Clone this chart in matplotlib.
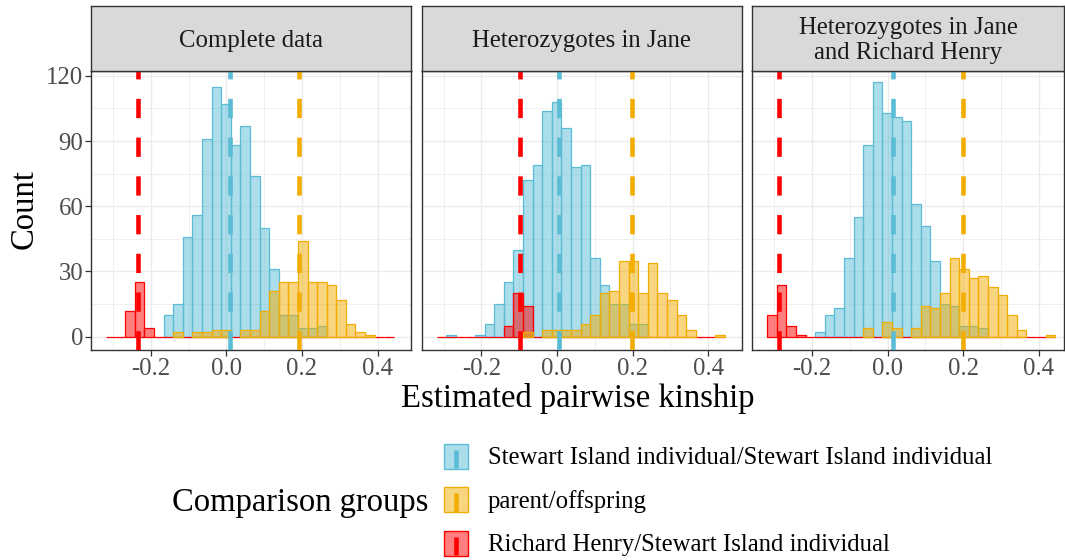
import numpy as np
import matplotlib
matplotlib.use("Agg")
import matplotlib.pyplot as plt
from matplotlib.patches import Rectangle
from matplotlib.lines import Line2D
from matplotlib.colors import to_rgba

plt.rcParams['font.family'] = ['Liberation Serif', 'DejaVu Serif']

# ---------------- data ----------------
panel_titles = ["Complete data", "Heterozygotes in Jane",
                "Heterozygotes in Jane\nand Richard Henry"]
group_labels = ["Stewart Island individual/Stewart Island individual",
                "parent/offspring",
                "Richard Henry/Stewart Island individual"]
group_colors = ["#5BBCD6", "#F2AD00", "#FF0000"]

bin_lo, bin_hi, n_bins = -0.3185, 0.4433, 30

# counts per bin (30 bins), panel 1: complete data
ssi_complete = [0, 0, 0, 0, 0, 0, 10, 15, 46, 56, 91, 115, 107, 88, 97, 74, 50, 31, 10, 10, 4, 4, 5, 0, 0, 0, 0, 0, 0, 0]
po_complete = [0, 0, 0, 0, 0, 0, 0, 2, 0, 2, 2, 3, 3, 0, 3, 3, 12, 21, 25, 25, 44, 25, 25, 24, 17, 6, 2, 1, 0, 0]
rh_complete = [0, 0, 12, 25, 4, 0, 0, 0, 0, 0, 0, 0, 0, 0, 0, 0, 0, 0, 0, 0, 0, 0, 0, 0, 0, 0, 0, 0, 0, 0]
# panel 2: heterozygotes in Jane
ssi_jane = [0, 1, 0, 0, 1, 6, 15, 25, 40, 72, 79, 104, 108, 96, 78, 79, 36, 24, 15, 15, 6, 6, 0, 0, 0, 0, 0, 0, 0, 0]
po_jane = [0, 0, 0, 0, 0, 0, 0, 0, 0, 2, 0, 3, 3, 3, 3, 6, 10, 20, 21, 35, 35, 20, 34, 20, 17, 10, 3, 0, 0, 1]
rh_jane = [0, 0, 0, 0, 0, 0, 0, 5, 20, 14, 0, 0, 0, 0, 0, 0, 0, 0, 0, 0, 0, 0, 0, 0, 0, 0, 0, 0, 0, 0]
# panel 3: heterozygotes in Jane and Richard Henry
ssi_both = [0, 0, 0, 0, 0, 2, 10, 13, 36, 55, 88, 117, 103, 101, 99, 61, 51, 35, 15, 14, 5, 5, 4, 0, 0, 0, 0, 0, 0, 0]
po_both = [0, 0, 0, 0, 0, 0, 0, 0, 0, 0, 4, 0, 7, 4, 0, 4, 14, 13, 20, 36, 31, 27, 28, 23, 19, 10, 3, 0, 0, 1]
rh_both = [10, 24, 5, 1, 0, 0, 0, 0, 0, 0, 0, 0, 0, 0, 0, 0, 0, 0, 0, 0, 0, 0, 0, 0, 0, 0, 0, 0, 0, 0]

# group means (dashed lines)
mean_ssi = [0.0105, 0.0044, 0.0132]
mean_po = [0.193, 0.1984, 0.2002]
mean_rh = [-0.2347, -0.0979, -0.2866]

x_ticks = [-0.2, 0.0, 0.2, 0.4]
y_ticks = [0, 30, 60, 90, 120]

ssi_sets = [ssi_complete, ssi_jane, ssi_both]
po_sets = [po_complete, po_jane, po_both]
rh_sets = [rh_complete, rh_jane, rh_both]

# ---------------- layout ----------------
W, H = 1065, 560
fig = plt.figure(figsize=(W / 100, H / 100), dpi=100)


def fx(px):
    return px / W


def fy(py):
    return 1 - py / H


panel_left = [91, 421.7, 752.3]
panel_width = [320, 320, 311.7]
panel_top, panel_bot = 71, 350
strip_top = 6
xlo = -0.358
px_per_unit = 378.0
ylim = (-6.1, 122.2)

edges = np.linspace(bin_lo, bin_hi, n_bins + 1)
centers = (edges[:-1] + edges[1:]) / 2
bw = edges[1] - edges[0]

dash = (0, (4.2, 4.25))
grid_c = "#EBEBEB"
border_c = "#333333"
fs_tick = 17.8
fs_strip = 17.8
fs_title = 23.5

for i in range(3):
    ax = fig.add_axes([fx(panel_left[i]), fy(panel_bot),
                       fx(panel_width[i]), (panel_bot - panel_top) / H])
    ax.set_xlim(xlo, xlo + panel_width[i] / px_per_unit)
    ax.set_ylim(*ylim)
    ax.set_axisbelow(True)
    ax.set_xticks(x_ticks)
    ax.set_xticklabels(["-0.2", "0.0", "0.2", "0.4"])
    ax.set_xticks([-0.3, -0.1, 0.1, 0.3], minor=True)
    ax.set_yticks(y_ticks)
    ax.set_yticks([15, 45, 75, 105], minor=True)
    ax.grid(which="major", color=grid_c, lw=1.0)
    ax.grid(which="minor", color=grid_c, lw=0.55)
    ax.tick_params(which="minor", length=0)
    ax.tick_params(which="major", length=4, width=0.9, color=border_c,
                   labelsize=fs_tick, labelcolor="#4D4D4D", pad=1.5)
    if i > 0:
        ax.tick_params(axis="y", which="both", left=False, labelleft=False)
    for s in ax.spines.values():
        s.set_color(border_c)
        s.set_linewidth(1.0)

    # blue: non-zero bins
    c_ssi = np.array(ssi_sets[i])
    m = c_ssi > 0
    ax.bar(centers[m], c_ssi[m], width=bw, facecolor=to_rgba(group_colors[0], 0.5),
           edgecolor=group_colors[0], lw=0.9, zorder=2)
    # red: all bins (zero bins form baseline)
    c_rh = np.array(rh_sets[i])
    ax.bar(centers, c_rh, width=bw, facecolor=to_rgba(group_colors[2], 0.5),
           edgecolor=group_colors[2], lw=0.9, zorder=3)
    # yellow: non-zero bins
    c_po = np.array(po_sets[i])
    m = c_po > 0
    ax.bar(centers[m], c_po[m], width=bw, facecolor=to_rgba(group_colors[1], 0.5),
           edgecolor=group_colors[1], lw=0.9, zorder=4)

    ax.axvline(mean_ssi[i], color=group_colors[0], lw=3.3, ls=dash, zorder=5)
    ax.axvline(mean_po[i], color=group_colors[1], lw=3.3, ls=dash, zorder=5)
    ax.axvline(mean_rh[i], color=group_colors[2], lw=3.3, ls=dash, zorder=5)

    # strip
    sax = fig.add_axes([fx(panel_left[i]), fy(panel_top),
                        fx(panel_width[i]), (panel_top - strip_top) / H])
    sax.set_facecolor("#D9D9D9")
    sax.set_xticks([])
    sax.set_yticks([])
    for s in sax.spines.values():
        s.set_color(border_c)
        s.set_linewidth(1.0)
    sax.text(0.5, (panel_top - 40.5) / (panel_top - strip_top), panel_titles[i],
             ha="center", va="center", fontsize=fs_strip, color="#1A1A1A",
             linespacing=1.2, transform=sax.transAxes)

# axis titles
fig.text(fx(33), fy(209), "Count", rotation=90, rotation_mode="anchor",
         ha="center", va="baseline", fontsize=fs_title, color="black")
fig.text(fx(578), fy(407), "Estimated pairwise kinship", ha="center",
         va="baseline", fontsize=fs_title, color="black")

# legend (drawn manually)
fig.text(fx(172), fy(511.5), "Comparison groups", ha="left", va="baseline",
         fontsize=fs_title, color="black")
key_x0, key_w, key_h = 444, 24, 25
row_centers = [456, 499.5, 543]
for c, lab, yc in zip(group_colors, group_labels, row_centers):
    y_top = yc - key_h / 2
    rect = Rectangle((fx(key_x0), fy(y_top + key_h)), fx(key_w), key_h / H,
                     transform=fig.transFigure, facecolor=to_rgba(c, 0.5),
                     edgecolor=c, lw=1.0)
    fig.add_artist(rect)
    xc = key_x0 + key_w / 2
    ln = Line2D([fx(xc), fx(xc)], [fy(y_top + key_h - 0.5), fy(y_top + key_h - 19)],
                transform=fig.transFigure, color=c, lw=3.3, solid_capstyle="butt")
    fig.add_artist(ln)
    fig.text(fx(488), fy(yc), lab, ha="left", va="center_baseline",
             fontsize=fs_strip, color="black")

fig.savefig("out.png", dpi=100)
